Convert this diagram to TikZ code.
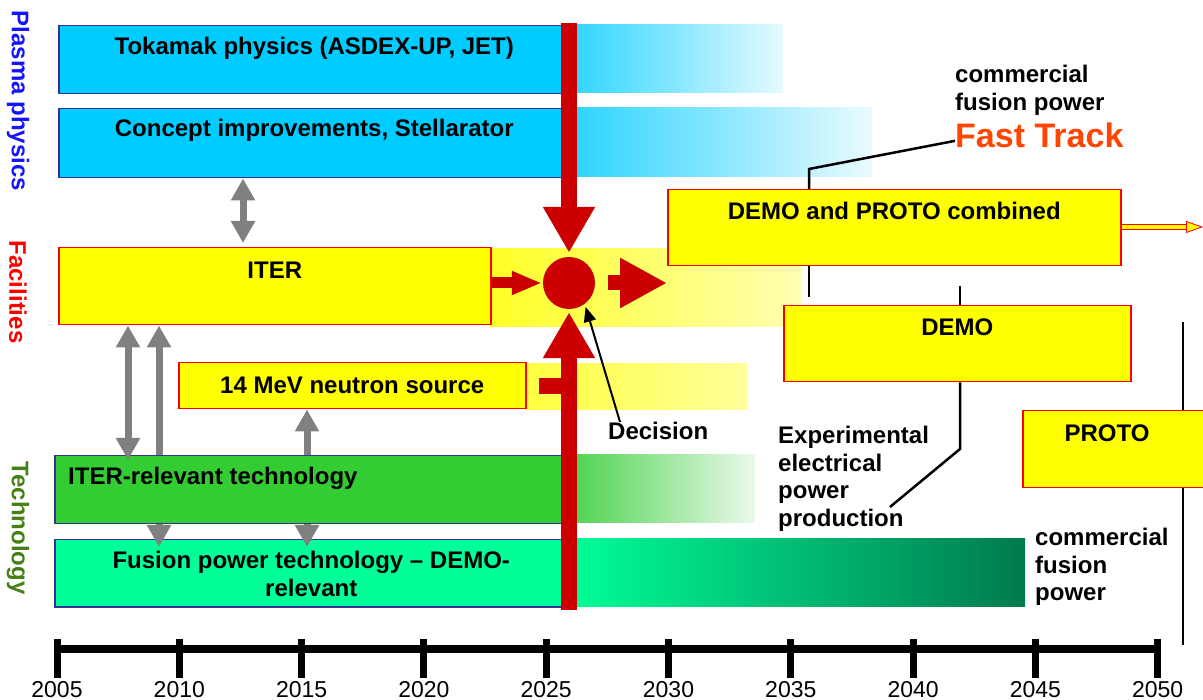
\documentclass[tikz,border=0pt]{standalone}
\usepackage{fontspec}
\setmainfont{Liberation Sans}
\usetikzlibrary{positioning,arrows.meta,calc}
\definecolor{PlasmaCyan}{RGB}{0,204,255}
\definecolor{BoxBlue}{RGB}{51,51,153}
\definecolor{IterYellow}{RGB}{255,255,0}
\definecolor{TechGreen}{RGB}{51,204,51}
\definecolor{FusionGreen}{RGB}{0,255,153}
\definecolor{FusionDark}{RGB}{0,122,77}
\definecolor{DecRed}{RGB}{204,0,0}
\definecolor{ArrowGray}{RGB}{128,128,128}
\definecolor{TrackOrange}{RGB}{255,69,0}
\definecolor{TechOlive}{RGB}{70,128,20}
\definecolor{PlasmaBlue}{RGB}{20,20,255}

\begin{document}
\begin{tikzpicture}[x=1pt,y=-1pt,
  every node/.style={inner sep=0pt},
  txt/.style={font=\bfseries\fontsize{24}{27.5}\selectfont, align=center},
  sidetxt/.style={font=\bfseries\fontsize{24}{28}\selectfont, rotate=-90},
  yearlbl/.style={font=\fontsize{23}{26}\selectfont, anchor=north},
  box/.style={anchor=north west, line width=1.5pt},
  bluebox/.style={box, draw=BoxBlue, fill=PlasmaCyan},
  yellowbox/.style={box, draw=red, fill=IterYellow},
  redbar/.style={draw=DecRed, line width=16pt},
  grayarr/.style={draw=ArrowGray, line width=7pt, -{Triangle[length=22pt,width=23pt]}},
  grayboth/.style={grayarr, {Triangle[length=22pt,width=23pt]}-{Triangle[length=22pt,width=23pt]}},
  leader/.style={draw=black, line width=2.5pt}]
  \useasboundingbox (0,0) rectangle (1203,700);

  % fading bands behind the decision line
  \shade[left color=PlasmaCyan!85!white, right color=PlasmaCyan!10!white] (563,25) rectangle (783,93);
  \shade[left color=PlasmaCyan!85!white, right color=PlasmaCyan!8!white] (563,108) rectangle (872,177);
  \shade[left color=IterYellow!85!white, right color=IterYellow!30!white] (490,249) rectangle (801,327);
  \shade[left color=IterYellow!75!white, right color=IterYellow!40!white] (525,364) rectangle (747,410);
  \shade[left color=TechGreen!90!white, right color=TechGreen!10!white] (563,455) rectangle (755,523);
  \shade[left color=FusionGreen, middle color=FusionGreen!85!FusionDark, right color=FusionDark] (563,539) rectangle (1025,606);

  % thin leader lines
  \coordinate (rTop) at (1183,322);
  \coordinate (rBot) at (1183,645);
  \draw[leader, line width=2pt] (rTop) -- (rBot);

  % boxes
  \node[bluebox, minimum width=505pt, minimum height=68pt] (tok) at (58,25) {};
  \node[bluebox, minimum width=505pt, minimum height=69pt] (concept) at (58,108) {};
  \node[yellowbox, minimum width=432pt, minimum height=77pt] (iter) at (58,247) {};
  \node[yellowbox, minimum width=347pt, minimum height=46pt] (neutron) at (178,362) {};
  \node[box, draw=BoxBlue, fill=TechGreen, minimum width=509pt, minimum height=68pt] (itertech) at (54,455) {};
  \node[box, draw=BoxBlue, fill=FusionGreen, minimum width=509pt, minimum height=67pt] (fusion) at (54,539) {};
  \node[yellowbox, minimum width=453pt, minimum height=76pt] (combo) at (667,189) {};
  \node[yellowbox, minimum width=347pt, minimum height=76pt] (demo) at (783,305) {};
  \node[yellowbox, minimum width=200pt, minimum height=77pt] (proto) at (1022,410) {};

  % box texts
  \node[txt] (tokTxt) at ([xshift=3pt,yshift=-23pt]tok.north) {Tokamak physics (ASDEX-UP, JET)};
  \node[txt] (conceptTxt) at ([xshift=3pt,yshift=-22pt]concept.north) {Concept improvements, Stellarator};
  \node[txt] (iterTxt) at ([yshift=-23pt]iter.north) {ITER};
  \node[txt] (neutronTxt) at (neutron.center) {14 MeV neutron source};
  \node[txt, anchor=west] (techTxt) at ([xshift=14pt,yshift=-23pt]itertech.north west) {ITER-relevant technology};
  \node[txt] (fusTxt) at ([xshift=2pt,yshift=-35pt]fusion.north) {Fusion power technology – DEMO-\\relevant};
  \node[txt] (comboTxt) at ([yshift=-22pt]combo.north) {DEMO and PROTO combined};
  \node[txt] (demoTxt) at ([yshift=-22pt]demo.north) {DEMO};
  \node[txt] (protoTxt) at ([xshift=85pt,yshift=-23pt]proto.north west) {PROTO};

  % side labels
  \node[sidetxt, text=PlasmaBlue] (plasmaLbl) at (18,101) {Plasma physics};
  \node[sidetxt, text=red] (facLbl) at (18,292) {Facilities};
  \node[sidetxt, text=TechOlive] (techLbl) at (18,528) {Technology};

  % free texts
  \node[txt, align=left, anchor=north west] (cfpTop) at (955,65) {commercial\\fusion power};
  \node[font=\bfseries\fontsize{34}{40}\selectfont, text=TrackOrange, anchor=base west] (ftTxt) at (955,148) {Fast Track};
  \node[txt, align=left, anchor=north west] (expTxt) at (778,426) {Experimental\\electrical\\power\\production};
  \node[txt, align=left, anchor=north west] (cfpBot) at (1035,528) {commercial\\fusion\\power};
  \node[txt, anchor=north west] (decTxt) at (608,422) {Decision};

  \coordinate (kink) at (809,169);
  \draw[leader] ([yshift=-5pt]ftTxt.west) -- (kink) -- (kink |- combo.north);
  \draw[leader] (combo.south -| kink) -- ++(0,31);
  \coordinate (demoTap) at (960,286);
  \coordinate (demoKink) at (960,449);
  \coordinate (expEnd) at (890,507);
  \draw[leader] (demoTap) -- (demoTap |- demo.north);
  \draw[leader] (demoTap |- demo.south) -- (demoKink) -- (expEnd);

  % outgoing arrow of the combined box
  \coordinate (comboOut) at (1203,227);
  \draw[draw=red, line width=0.8pt, double=IterYellow, double distance=3.5pt,
        -{Triangle[length=17pt,width=12pt,fill=IterYellow]}] (combo.east |- comboOut) -- (comboOut);

  % gray links
  \coordinate (gA) at (243,0);
  \coordinate (gB) at (128,0);
  \coordinate (gC) at (159,0);
  \coordinate (gD) at (307,0);
  \draw[grayboth, shorten >=4pt] (concept.south -| gA) -- (iter.north -| gA);
  \draw[grayboth, shorten >=-5pt] (iter.south -| gB) -- (itertech.north -| gB);
  \draw[grayarr] (itertech.north -| gC) -- (iter.south -| gC);
  \draw[grayarr] (itertech.north -| gD) -- (neutron.south -| gD);
  \draw[grayarr, shorten >=-8pt] (itertech.south -| gC) -- (fusion.north -| gC);
  \draw[grayarr, shorten >=-8pt] (itertech.south -| gD) -- (fusion.north -| gD);

  % decision point
  \node[circle, fill=DecRed, minimum size=52pt] (dec) at (569,283) {};
  \coordinate (barTop) at (569,23);
  \coordinate (barBot) at (569,610);
  \draw[redbar, -{Triangle[length=46pt,width=49pt]}] (barTop) -- ([yshift=4pt]dec.north);
  \draw[redbar, -{Triangle[length=46pt,width=49pt]}] (barBot) -- ([yshift=-3pt]dec.south);
  \draw[redbar, line width=11pt, -{Triangle[length=30pt,width=22pt]}] (iter.east |- dec) -- ([xshift=-1pt]dec.west);
  \draw[redbar, line width=15pt, -{Triangle[length=47pt,width=47pt]}] ([xshift=13pt]dec.east) -- (combo.west |- dec);
  \draw[redbar] ([xshift=12pt]neutron.east) -- (neutron.east -| barTop);
  \draw[line width=2pt, -{Triangle[length=15pt,width=12pt]}, shorten >=3pt] ([xshift=12pt]decTxt.north west) -- (dec.-53);

  % time axis
  \coordinate (tlStart) at (57,649);
  \coordinate (tlEnd) at (1158,649);
  \draw[line width=8pt] (tlStart) -- (tlEnd);
  \foreach \yr [count=\i from 0] in {2005,2010,...,2050} {
    \draw[line width=7pt] (57+122.3*\i,639) -- (57+122.3*\i,678);
    \node[yearlbl] (yr\yr) at (57+122.3*\i,681) {\yr};
  }
\end{tikzpicture}
\end{document}
